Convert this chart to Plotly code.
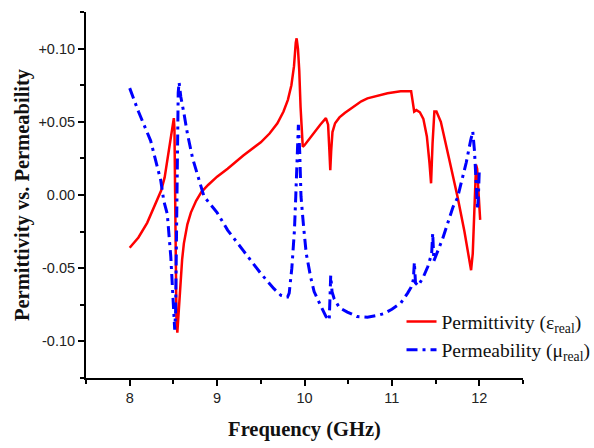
import plotly.graph_objects as go

# Permittivity (real part)
freq_eps = [8.00, 8.10, 8.20, 8.30, 8.36, 8.40, 8.43, 8.46, 8.49, 8.505, 8.512, 8.518, 8.525, 8.535,
            8.545, 8.555, 8.57, 8.585, 8.60, 8.62, 8.66, 8.70, 8.76, 8.82, 8.90, 9.00, 9.12, 9.30,
            9.50, 9.60, 9.69, 9.76, 9.81, 9.85, 9.88, 9.90, 9.91, 9.925, 9.94, 9.955, 9.968, 9.98,
            10.00, 10.05, 10.11, 10.18, 10.245, 10.27, 10.285, 10.295, 10.305, 10.32, 10.35, 10.40,
            10.46, 10.55, 10.65, 10.72, 10.85, 10.95, 11.10, 11.22, 11.235, 11.255, 11.28, 11.32,
            11.36, 11.40, 11.43, 11.448, 11.465, 11.486, 11.51, 11.56, 11.65, 11.754, 11.83, 11.88,
            11.906, 11.925, 11.945, 11.963, 11.975, 11.99, 12.01]
eps_real = [-0.036, -0.029, -0.019, -0.006, 0.003, 0.012, 0.024, 0.037, 0.049, 0.0525, 0.045, 0.0,
            -0.05, -0.085, -0.094, -0.085, -0.068, -0.055, -0.044, -0.033, -0.020, -0.012, -0.004,
            0.002, 0.007, 0.0125, 0.018, 0.027, 0.036, 0.042, 0.049, 0.057, 0.065, 0.075, 0.088,
            0.104, 0.107, 0.100, 0.085, 0.060, 0.040, 0.033, 0.034, 0.038, 0.043, 0.048, 0.0525,
            0.048, 0.030, 0.017, 0.030, 0.043, 0.049, 0.053, 0.056, 0.060, 0.064, 0.066, 0.068,
            0.0695, 0.0708, 0.0708, 0.065, 0.057, 0.058, 0.0565, 0.052, 0.040, 0.022, 0.008, 0.035,
            0.057, 0.057, 0.050, 0.026, -0.002, -0.025, -0.043, -0.0514, -0.040, -0.010, 0.0206,
            0.018, 0.0, -0.017]

# Permeability (real part)
freq_mu = [8.00, 8.10, 8.24, 8.355, 8.39, 8.43, 8.47, 8.49, 8.507, 8.515, 8.525, 8.535, 8.545, 8.555,
           8.565, 8.585, 8.62, 8.66, 8.72, 8.81, 8.85, 9.00, 9.12, 9.30, 9.50, 9.65, 9.73, 9.806,
           9.825, 9.855, 9.885, 9.90, 9.915, 9.93, 9.945, 9.96, 9.99, 10.02, 10.07, 10.11, 10.18,
           10.245, 10.283, 10.30, 10.315, 10.34, 10.40, 10.49, 10.60, 10.72, 10.85, 10.91, 11.00,
           11.10, 11.18, 11.22, 11.245, 11.257, 11.27, 11.30, 11.36, 11.41, 11.455, 11.467, 11.48,
           11.52, 11.58, 11.64, 11.70, 11.75, 11.79, 11.85, 11.90, 11.925, 11.945, 11.963, 11.98,
           11.99, 12.00]
mu_real = [0.073, 0.057, 0.037, 0.010, -0.004, -0.013, -0.042, -0.065, -0.090, -0.092, -0.080,
           -0.020, 0.040, 0.070, 0.077, 0.067, 0.056, 0.042, 0.025, 0.006, -0.001, -0.012, -0.024,
           -0.038, -0.0536, -0.064, -0.0685, -0.0697, -0.067, -0.050, -0.024, -0.001, 0.030, 0.048,
           0.030, -0.001, -0.022, -0.040, -0.056, -0.066, -0.075, -0.083, -0.0855, -0.055, -0.066,
           -0.071, -0.077, -0.080, -0.083, -0.0835, -0.082, -0.081, -0.078, -0.074, -0.067, -0.063,
           -0.058, -0.046, -0.060, -0.062, -0.056, -0.049, -0.040, -0.026, -0.045, -0.039, -0.030,
           -0.019, -0.008, -0.002, 0.008, 0.022, 0.037, 0.0434, 0.030, 0.0126, -0.010, 0.000, 0.017]

x_ticks = [8, 9, 10, 11, 12]
y_ticks = [0.10, 0.05, 0.00, -0.05, -0.10]
y_tick_labels = ["+0.10", "+0.05", "0.00", "-0.05", "-0.10"]

fig = go.Figure()
fig.add_trace(go.Scatter(x=freq_eps, y=eps_real, mode="lines",
                         name="Permittivity (ε<sub>real</sub>)",
                         line=dict(color="#ff0000", width=2.5)))
fig.add_trace(go.Scatter(x=freq_mu, y=mu_real, mode="lines",
                         name="Permeability (μ<sub>real</sub>)",
                         line=dict(color="#0000ff", width=3, dash="11px,5px,3px,5px")))

axis_font = dict(family="Liberation Sans, Arial", size=14.5, color="#222")
title_font = dict(family="Liberation Serif, Times New Roman", size=20.5, color="#111")

fig.update_layout(
    width=594, height=448,
    margin=dict(l=86, r=71, t=12, b=70, autoexpand=False),
    paper_bgcolor="white", plot_bgcolor="white",
    showlegend=True,
    legend=dict(x=0.722, y=0.207, xanchor="left", yanchor="top",
                bgcolor="rgba(0,0,0,0)", borderwidth=0,
                font=dict(family="Liberation Serif, Times New Roman", size=19.5, color="#111"),
                tracegroupgap=2),
    xaxis=dict(range=[7.5, 12.5], tickvals=x_ticks, showgrid=False, zeroline=False,
               showline=True, linecolor="black", linewidth=2,
               ticks="outside", ticklen=6, tickwidth=2, tickcolor="black",
               minor=dict(dtick=0.5, tick0=7.5, ticks="outside", ticklen=4, tickwidth=2, tickcolor="black"),
               tickfont=axis_font,
               title=dict(text="<b>Frequency (GHz)</b>", font=title_font, standoff=16)),
    yaxis=dict(range=[-0.125, 0.125], tickvals=y_ticks, ticktext=y_tick_labels,
               showgrid=False, zeroline=False,
               showline=True, linecolor="black", linewidth=2,
               ticks="outside", ticklen=6, tickwidth=2, tickcolor="black",
               minor=dict(dtick=0.025, tick0=0, ticks="outside", ticklen=4, tickwidth=2, tickcolor="black"),
               tickfont=axis_font,
               title=dict(text="<b>Permittivity vs. Permeability</b>", font=title_font, standoff=3)),
)

fig.write_html("out.html")
